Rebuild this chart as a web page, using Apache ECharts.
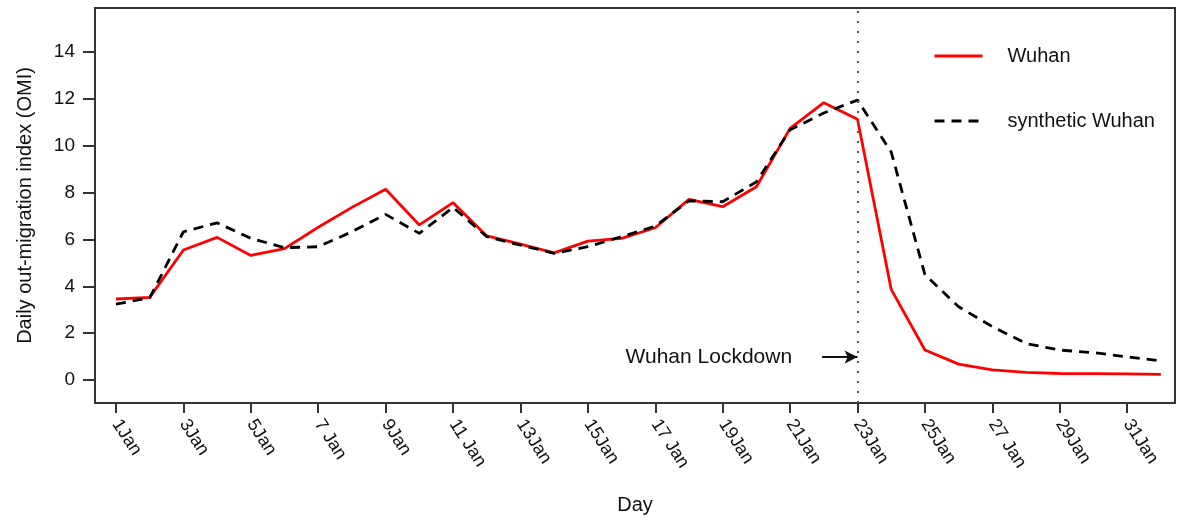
<!DOCTYPE html>
<html>
<head>
<meta charset="utf-8">
<script src="https://cdn.jsdelivr.net/npm/echarts@6/dist/echarts.min.js"></script>
<style>
  html, body { margin: 0; padding: 0; background: #fff; }
  #main { width: 1184px; height: 521px; }
</style>
</head>
<body>
<div id="main"></div>
<script>
// day of January (32 = 1 Feb)
var days = [1, 2, 3, 4, 5, 6, 7, 8, 9, 10, 11, 12, 13, 14, 15, 16,
  17, 18, 19, 20, 21, 22, 23, 24, 25, 26, 27, 28, 29, 30, 31, 32];
var wuhan = [3.46, 3.53, 5.55, 6.09, 5.32, 5.61, 6.52, 7.37, 8.14, 6.62, 7.57, 6.15, 5.80, 5.43, 5.93, 6.05,
  6.50, 7.71, 7.40, 8.25, 10.74, 11.84, 11.13, 3.87, 1.28, 0.68, 0.43, 0.33, 0.28, 0.27, 0.26, 0.24];
var synthetic = [3.24, 3.51, 6.33, 6.71, 6.05, 5.65, 5.69, 6.33, 7.07, 6.26, 7.37, 6.12, 5.76, 5.41, 5.69, 6.12,
  6.57, 7.65, 7.61, 8.46, 10.68, 11.40, 11.95, 9.73, 4.50, 3.13, 2.28, 1.56, 1.28, 1.17, 0.99, 0.82];

var xTicks = [1, 3, 5, 7, 9, 11, 13, 15, 17, 19, 21, 23, 25, 27, 29, 31];
var xTickLabels = ['1Jan', '3Jan', '5Jan', '7 Jan', '9Jan', '11 Jan', '13Jan', '15Jan',
  '17 Jan', '19Jan', '21Jan', '23Jan', '25Jan', '27 Jan', '29Jan', '31Jan'];
var yTicks = [0, 2, 4, 6, 8, 10, 12, 14];

var lockdownDay = 23;
var arrowStart = 21.95;
var arrowLevel = 0.98;

function pairs(ys) {
  return days.map(function (d, i) { return [d, ys[i]]; });
}

var font = 'Liberation Sans, Arial, sans-serif';
var chart = echarts.init(document.getElementById('main'), null, { renderer: 'canvas' });

chart.setOption({
  animation: false,
  backgroundColor: '#ffffff',
  grid: {
    left: 95, top: 8, width: 1080, height: 395,
    show: true, borderColor: '#333', borderWidth: 2, backgroundColor: 'transparent'
  },
  legend: {
    orient: 'vertical',
    left: 933, top: 46,
    padding: 0,
    itemWidth: 48, itemHeight: 20, itemGap: 45,
    itemStyle: { opacity: 0 },
    lineStyle: { width: 3 },
    textStyle: { fontFamily: font, fontSize: 20, color: '#111', padding: [0, 0, 0, 20] },
    data: ['Wuhan', 'synthetic Wuhan']
  },
  xAxis: {
    type: 'value',
    min: 0.377, max: 32.42,
    name: 'Day',
    nameLocation: 'middle',
    nameGap: 92,
    nameTextStyle: { fontFamily: font, fontSize: 20, color: '#111' },
    axisLine: { show: false, onZero: false },
    splitLine: { show: false },
    axisTick: { show: true, length: 10, customValues: xTicks, lineStyle: { color: '#333', width: 2 } },
    axisLabel: {
      customValues: xTicks,
      rotate: -57,
      margin: 18,
      fontFamily: font, fontSize: 18, color: '#111',
      formatter: function (v) { return xTickLabels[xTicks.indexOf(v)]; }
    }
  },
  yAxis: {
    type: 'value',
    min: -0.98, max: 15.88,
    name: 'Daily out-migration index (OMI)',
    nameLocation: 'middle',
    nameGap: 60,
    nameTextStyle: { fontFamily: font, fontSize: 20, color: '#111' },
    axisLine: { show: false, onZero: false },
    splitLine: { show: false },
    axisTick: { show: true, length: 12, customValues: yTicks, lineStyle: { color: '#333', width: 2 } },
    axisLabel: {
      customValues: yTicks,
      margin: 20,
      fontFamily: font, fontSize: 19, color: '#111'
    }
  },
  series: [
    {
      name: 'Wuhan',
      type: 'line',
      data: pairs(wuhan),
      symbol: 'none',
      z: 3,
      lineStyle: { color: '#ff0000', width: 2.8 },
      itemStyle: { color: '#ff0000' },
      markLine: {
        silent: true,
        animation: false,
        symbol: ['none', 'none'],
        label: { show: false },
        lineStyle: { color: '#555', width: 2, type: [2, 8] },
        data: [{ xAxis: lockdownDay }]
      }
    },
    {
      name: 'synthetic Wuhan',
      type: 'line',
      data: pairs(synthetic),
      symbol: 'none',
      z: 4,
      lineStyle: { color: '#000', width: 2.8, type: [10, 7] },
      itemStyle: { color: '#000' },
      markLine: {
        silent: true,
        animation: false,
        symbol: ['none', 'arrow'],
        symbolSize: [10, 13],
        data: [
          [
            { coord: [arrowStart, arrowLevel] },
            { coord: [lockdownDay, arrowLevel] }
          ]
        ],
        lineStyle: { color: '#111', width: 2, type: 'solid' },
        label: {
          show: true,
          position: 'start',
          distance: 30,
          formatter: 'Wuhan Lockdown',
          fontFamily: font, fontSize: 21, color: '#111'
        }
      }
    }
  ]
});
</script>
</body>
</html>
